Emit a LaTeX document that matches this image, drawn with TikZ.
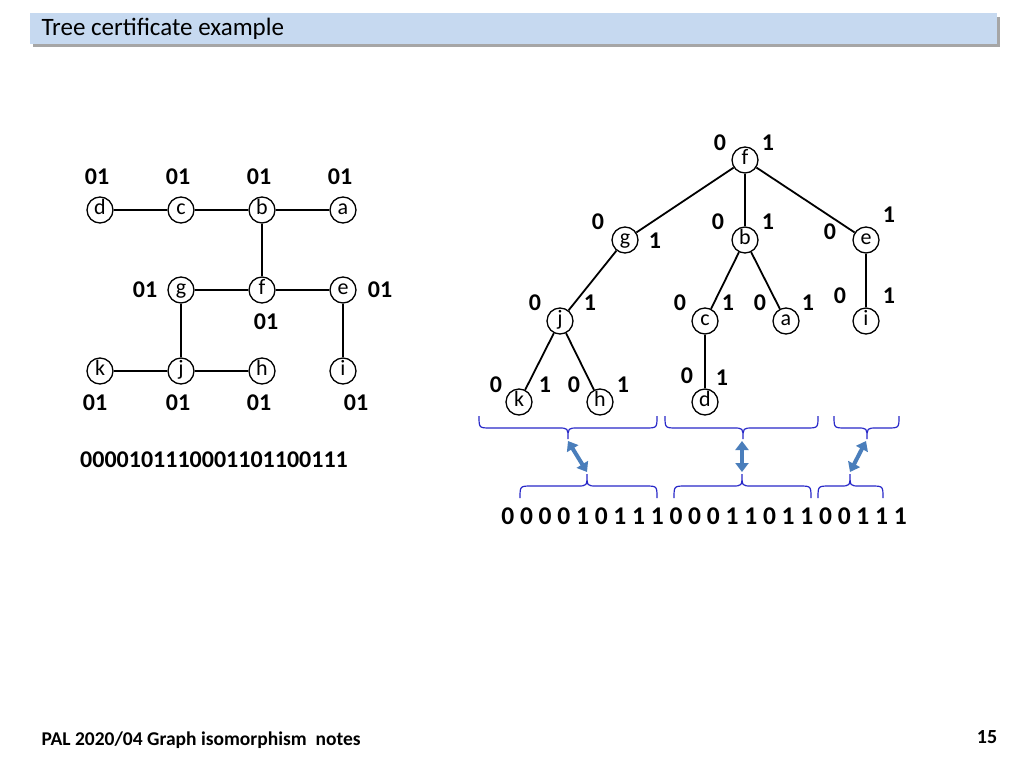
\documentclass[tikz,border=0pt]{standalone}
\usepackage{fontspec}
\setmainfont{Carlito}
\usetikzlibrary{arrows.meta}
\definecolor{hdr}{RGB}{198,217,240}
\definecolor{arr}{RGB}{74,126,187}
\definecolor{brc}{RGB}{40,40,200}
\newcommand\dnbrace[3]{\draw[brc,line width=1.2pt] (#1,416) .. controls (#1,428) .. (#1+12,428) -- (#3-10,428) .. controls (#3,428) .. (#3,439) .. controls (#3,428) .. (#3+10,428) -- (#2-12,428) .. controls (#2,428) .. (#2,416);}
\newcommand\upbrace[3]{\draw[brc,line width=1.2pt] (#1,498) .. controls (#1,486) .. (#1+12,486) -- (#3-10,486) .. controls (#3,486) .. (#3,474) .. controls (#3,486) .. (#3+10,486) -- (#2-12,486) .. controls (#2,486) .. (#2,498);}
\begin{document}
\begin{tikzpicture}[x=1pt,y=-1pt,
  v/.style={circle,draw,line width=1.3pt,minimum size=26pt,inner sep=0pt,text height=9pt,text depth=0pt,font=\fontsize{22}{22}\selectfont},
  lb/.style={font=\fontsize{24}{24}\selectfont\bfseries,inner sep=0pt},
  ed/.style={line width=1.8pt},
  dbl/.style={arr,line width=4pt,{Triangle[length=9pt,width=13pt]}-{Triangle[length=9pt,width=13pt]}}]
\useasboundingbox (0,0) rectangle (1024,768);
\fill[gray!70] (33,17) rectangle (1000,47);
\fill[hdr] (30,13) rectangle (997,44);
\node[anchor=west,font=\fontsize{25}{25}\selectfont] (title) at (38,29) {Tree certificate example};
% left graph
\foreach \n/\x/\y in {d/100/210,c/181/210,b/262/210,a/343/210,g/181/290,f/262/290,e/343/290,k/100/371,j/181/371,h/262/371,i/343/371}
  \node[v] (L\n) at (\x,\y) {\n};
\foreach \p/\q in {d/c,c/b,b/a,b/f,g/f,f/e,g/j,e/i,k/j,j/h}
  \draw[ed] (L\p) -- (L\q);
\foreach \x/\y [count=\i] in {97/177,178/177,259/177,340/177,145/290,380/290,266/322,95/403,178/403,259/403,356/403}
  \node[lb] (ll\i) at (\x,\y) {01};
\node[lb,anchor=west] (str) at (80,460) {0000101110001101100111};
% tree
\foreach \n/\x/\y in {f/745/160,g/625/240,b/745/240,e/866/240,j/560/321,c/705/321,a/786/321,i/866/321,k/519/402,h/600/402,d/705/402}
  \node[v] (T\n) at (\x,\y) {\n};
\foreach \p/\q in {f/g,f/b,f/e,g/j,b/c,b/a,e/i,j/k,j/h,c/d}
  \draw[ed] (T\p) -- (T\q);
\foreach \t/\x/\y [count=\i] in {0/720/143,1/768/143,0/598/222,1/655/241,0/718/222,1/768/222,0/830/232,1/889/215,0/535/303,1/590/303,0/680/303,1/728/303,0/760/303,1/808/303,0/840/296,1/889/296,0/496/385,1/545/385,0/574/385,1/623/385,0/687/376,1/722/378}
  \node[lb] (tl\i) at (\x,\y) {\t};
% braces
\dnbrace{479}{657}{568}
\dnbrace{665}{818}{743}
\dnbrace{834}{899}{867}
\upbrace{520}{657}{587}
\upbrace{674}{811}{742}
\upbrace{818}{883}{850}
\coordinate (a1) at (568,441); \coordinate (b1) at (587,472);
\coordinate (a2) at (742,441); \coordinate (b2) at (742,472);
\coordinate (a3) at (866,441); \coordinate (b3) at (850,472);
\draw[dbl] (a1) -- (b1);
\draw[dbl] (a2) -- (b2);
\draw[dbl] (a3) -- (b3);
\node[font=\fontsize{25.5}{25.5}\selectfont\bfseries,inner sep=0pt] (cert) at (704,516) {0 0 0 0 1 0 1 1 1 0 0 0 1 1 0 1 1 0 0 1 1 1};
% footer
\node[anchor=west,font=\fontsize{19.5}{19.5}\selectfont\bfseries] (foot) at (38,740) {PAL 2020/04 Graph isomorphism\ \ notes};
\node[font=\fontsize{20}{20}\selectfont\bfseries] (pg) at (987,737) {15};
\end{tikzpicture}
\end{document}
